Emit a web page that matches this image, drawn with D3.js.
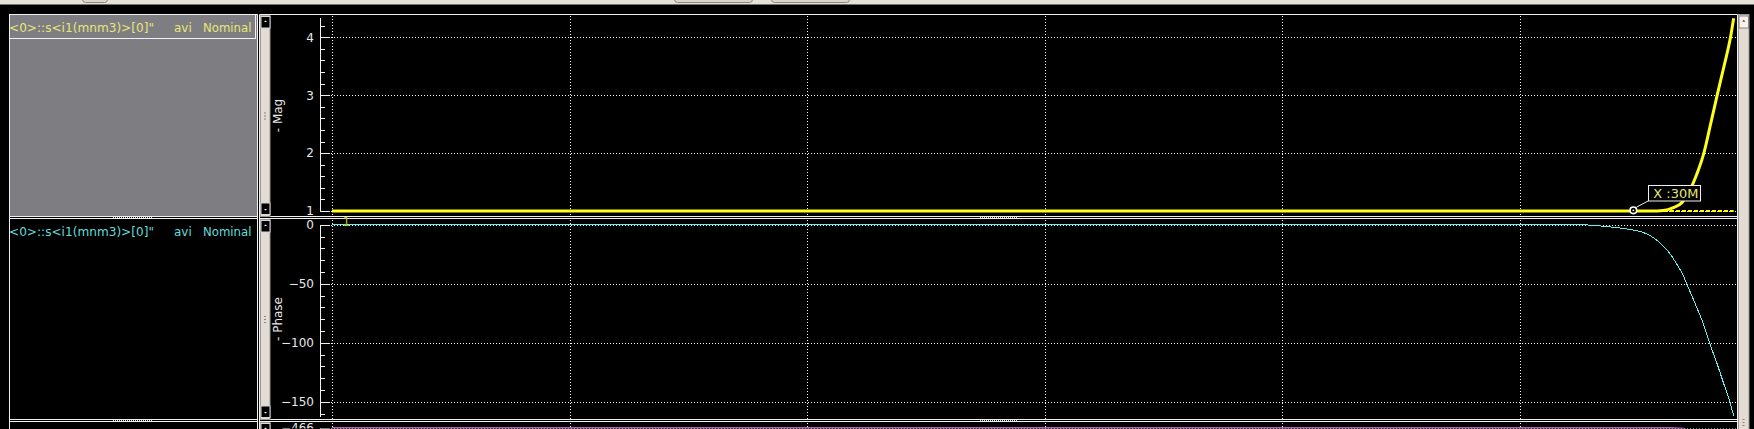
<!DOCTYPE html>
<html><head><meta charset="utf-8">
<script src="https://cdn.jsdelivr.net/npm/d3@7"></script>
<style>
html,body{margin:0;padding:0;background:#000;overflow:hidden}
svg{display:block}
text{font-family:"DejaVu Sans",sans-serif}
</style>
</head><body>
<svg id="c" width="1754" height="429"></svg>
<script>
// ---------------- DATA ----------------
const traceName = '<0>::s<i1(mnm3)>[0]"';
const traceAnalysis = 'avi';
const traceCorner = 'Nominal';
const panelTitles = ['- Mag', '- Phase'];

const magFreq   = [1e2, 1e3, 1e4, 1e5, 1e6, 1e7, 2e7, 3e7, 3.58e7, 4.01e7, 4.42e7, 4.79e7, 5.19e7, 5.54e7, 5.94e7, 6.34e7, 6.76e7, 7.22e7, 7.69e7, 7.93e7];
const magValues = [1, 1, 1, 1, 1, 1, 1, 1, 1, 1.01, 1.06, 1.14, 1.36, 1.63, 2.0, 2.5, 3.0, 3.5, 4.0, 4.33];

const phaseFreq   = [1e2, 1e3, 1e4, 1e5, 1e6, 1e7, 1.88e7, 2.35e7, 2.63e7, 2.90e7, 3.20e7, 3.52e7, 3.88e7, 4.28e7, 4.56e7, 4.86e7, 5.10e7, 5.54e7, 5.91e7, 6.30e7, 6.72e7, 7.17e7, 7.65e7, 7.93e7];
const phaseValues = [0, 0, 0, 0, 0, 0, -0.2, -1.7, -2.8, -4.0, -5.7, -9.1, -15.3, -24.6, -33.1, -43.0, -52.9, -69.9, -84.0, -101.0, -116.6, -133.5, -150.5, -162.0];

const thirdFreq   = [1e2, 1e7, 4.32e7, 4.85e7, 5.3e7];
const thirdValues = [-466, -466, -466, -466.4, -472];

const xGridFreqs  = [1e2, 1e3, 1e4, 1e5, 1e6, 1e7];
const magTicks    = [1, 2, 3, 4];
const phaseTicks  = [0, -50, -100, -150];
const thirdTicks  = [-466];

const markerFreq  = 30e6;
const markerLabel = 'X :30M';
const hMarkerValue = 1;
const hMarkerLabel = '1';

// ---------------- LAYOUT ----------------
const W = 1754, H = 429;
const svg = d3.select('#c');
svg.append('rect').attr('width', W).attr('height', H).attr('fill', '#000');

// top toolbar strip
svg.append('rect').attr('x', 0).attr('y', 0).attr('width', W).attr('height', 4.5).attr('fill', '#e6e1d9');
[[82, 107], [674, 752], [771, 849]].forEach(([a, b]) => {
  svg.append('rect').attr('x', a + 0.5).attr('y', -8).attr('width', b - a).attr('height', 10.5)
    .attr('rx', 3).attr('fill', '#dcd6ce').attr('stroke', '#8e8880');
});

const plotL = 259.5, plotR = 1737.5, axisX = 320;
const x = d3.scaleLog().domain([1e2, 1e7]).range([332, 1520]);

const panels = [
  { top: 14.5, bottom: 216.5, y: d3.scaleLinear().domain([1, 4]).range([211, 37.3]),
    ticks: magTicks, minorStep: 0.2, title: panelTitles[0], data: [magFreq, magValues],
    color: '#ffff1a', width: 3, labelColor: '#e6e678', grey: true },
  { top: 218.5, bottom: 419.5, y: d3.scaleLinear().domain([0, -150]).range([224.7, 401.7]),
    ticks: phaseTicks, minorStep: 10, title: panelTitles[1], data: [phaseFreq, phaseValues],
    color: '#66f0f0', width: 1, labelColor: '#62dcdc', grey: false },
  { top: 421.5, bottom: 470, y: d3.scaleLinear().domain([-466, -516]).range([428, 487]),
    ticks: thirdTicks, minorStep: 10, title: '', data: [thirdFreq, thirdValues],
    color: '#ee82ee', width: 1.5, labelColor: '#ee82ee', grey: false }
];

function vScrollbar(g, xl, y0, y1, dark) {
  g.append('rect').attr('x', xl + 0.5).attr('y', y0 + 0.5).attr('width', 9.5).attr('height', y1 - y0)
    .attr('fill', '#e2dcd4').attr('stroke', '#9c968e');
  const btn = (yy, up) => {
    g.append('rect').attr('x', xl + 1).attr('y', yy).attr('width', 9).attr('height', 11.5)
      .attr('fill', dark ? '#000' : '#f4f1ec').attr('stroke', dark ? '#d8d8d8' : '#8a847c').attr('stroke-width', 1);
    const cx = xl + 5.5, cy = yy + (up ? 4 : 7.5);
    g.append('path').attr('d', up ? `M${cx-1.5},${cy+1.5}L${cx},${cy}L${cx+1.5},${cy+1.5}Z` : `M${cx-1.5},${cy-1.5}L${cx},${cy}L${cx+1.5},${cy-1.5}Z`)
      .attr('fill', dark ? '#fff' : '#000');
  };
  btn(y0 + 1.5, true);
  if (y1 - y0 > 40) btn(y1 - 13, false);
  const mid = (y0 + y1) / 2;
  if (y1 - y0 > 40) [-3, 0, 3].forEach(d => g.append('rect').attr('x', xl + 4).attr('y', mid + d).attr('width', 2).attr('height', 1).attr('fill', '#8a847c'));
}

panels.forEach((p, i) => {
  const g = svg.append('g');
  const bottomClip = Math.min(p.bottom, H);
  // left info panel
  if (p.grey) {
    g.append('rect').attr('x', 9).attr('y', p.top - 0.5).attr('width', 249).attr('height', p.bottom - p.top + 0.5).attr('fill', '#7e7e82');
    g.append('rect').attr('x', 9.5).attr('y', p.top).attr('width', 246).attr('height', 24).attr('fill', 'none').attr('stroke', '#f0f0f0');
  }
  g.append('path').attr('d', `M9.5,${H + 5}V${p.top}H257.5V${H + 5}`).attr('fill', 'none').attr('stroke', '#f0f0f0');
  if (p.bottom < H) g.append('line').attr('x1', 9).attr('x2', 258).attr('y1', p.bottom).attr('y2', p.bottom).attr('stroke', '#f0f0f0');
  if (i < 2) {
    const ty = p.top + 17.5;
    g.append('text').attr('x', 9).attr('y', ty).attr('fill', p.labelColor).attr('font-size', 12)
      .attr('textLength', 145).attr('lengthAdjust', 'spacingAndGlyphs').text(traceName);
    g.append('text').attr('x', 174).attr('y', ty).attr('fill', p.labelColor).attr('font-size', 12).text(traceAnalysis);
    g.append('text').attr('x', 203).attr('y', ty).attr('fill', p.labelColor).attr('font-size', 12)
      .attr('textLength', 48.5).attr('lengthAdjust', 'spacingAndGlyphs').text(traceCorner);
  }
  // plot frame
  g.append('path').attr('d', `M${plotL},${H + 5}V${p.top}H${plotR}V${H + 5}`).attr('fill', 'none').attr('stroke', '#f0f0f0');
  if (p.bottom < H) g.append('line').attr('x1', plotL).attr('x2', plotR).attr('y1', p.bottom).attr('y2', p.bottom).attr('stroke', '#f0f0f0');
  vScrollbar(g, 260, p.top + 0.5, Math.min(p.bottom - 0.5, H + 20), true);

  const clipId = 'clip' + i;
  svg.append('clipPath').attr('id', clipId).append('rect')
    .attr('x', 271).attr('y', p.top + 0.5).attr('width', plotR - 271).attr('height', Math.max(0, bottomClip - p.top - 1));
  const pg = svg.append('g').attr('clip-path', `url(#${clipId})`);
  const y = p.y;

  // grid
  xGridFreqs.forEach(f => {
    const gx = Math.round(x(f)) + 0.5;
    pg.append('line').attr('x1', gx).attr('x2', gx).attr('y1', p.top + 1).attr('y2', bottomClip)
      .attr('stroke', '#fff').attr('stroke-dasharray', '1,2').attr('shape-rendering', 'crispEdges');
  });
  p.ticks.forEach(v => {
    const gy = Math.round(y(v)) + 0.5;
    pg.append('line').attr('x1', 331).attr('x2', plotR).attr('y1', gy).attr('y2', gy)
      .attr('stroke', '#fff').attr('stroke-dasharray', '1,2').attr('shape-rendering', 'crispEdges');
  });

  // axis
  const [fs, vs] = p.data;
  const vmin = d3.min(vs), vmax = d3.max(vs);
  const minor = d3.range(Math.ceil(vmin / p.minorStep), Math.floor(vmax / p.minorStep) + 1).map(k => +(k * p.minorStep).toFixed(4));
  const ax = pg.append('g').attr('transform', `translate(${axisX},0)`);
  ax.call(d3.axisRight(y).tickValues(minor).tickSize(5).tickFormat(''));
  ax.call(g2 => g2.select('.domain').remove());
  const ax2 = pg.append('g').attr('transform', `translate(${axisX},0)`);
  ax2.call(d3.axisRight(y).tickValues(p.ticks).tickSize(10).tickFormat(''));
  ax2.call(g2 => g2.select('.domain').remove());
  pg.selectAll('.tick line').attr('stroke', '#f0f0f0').attr('shape-rendering', 'crispEdges');
  const lastVal = i === 2 ? vmin - 40 : vmin;
  pg.append('line').attr('x1', axisX + 0.5).attr('x2', axisX + 0.5)
    .attr('y1', Math.round(y(vmax))).attr('y2', Math.round(y(lastVal)) + 1)
    .attr('stroke', '#f0f0f0').attr('shape-rendering', 'crispEdges');
  const lab = pg.append('g').attr('transform', `translate(${axisX},0)`);
  lab.call(d3.axisLeft(y).tickValues(p.ticks).tickSize(0).tickPadding(6).tickFormat(d3.format('d')));
  lab.call(g2 => g2.select('.domain').remove());
  lab.selectAll('text').attr('fill', '#e8e8e8').attr('font-size', 12).attr('font-family', '"DejaVu Sans",sans-serif');

  // title
  if (p.title) {
    svg.append('text').attr('transform', `translate(282,${(p.top + p.bottom) / 2}) rotate(-90)`)
      .attr('text-anchor', 'middle').attr('fill', '#e8e8e8').attr('font-size', 12).text(p.title);
  }

  // horizontal marker (magnitude panel)
  if (i === 0) {
    const hy = y(hMarkerValue);
    pg.append('line').attr('x1', x(1e2)).attr('x2', x(7.93e7)).attr('y1', hy).attr('y2', hy)
      .attr('stroke', '#ffff00').attr('stroke-width', 2).attr('stroke-dasharray', '4,2');
  }

  // trace
  const pts = fs.map((f, k) => [x(f), y(vs[k])]);
  pg.append('path').attr('d', d3.line().curve(d3.curveMonotoneX)(pts))
    .attr('fill', 'none').attr('stroke', p.color).attr('stroke-width', p.width)
    .attr('shape-rendering', i === 1 ? 'crispEdges' : 'auto');
});

// separator handles
[[113, 153, 217.5], [980, 1018, 217.5], [113, 153, 420.5], [980, 1018, 420.5]].forEach(([a, b, yy]) => {
  svg.append('line').attr('x1', a).attr('x2', b).attr('y1', yy).attr('y2', yy)
    .attr('stroke', '#d8d8d8').attr('stroke-dasharray', '1,1');
});

// horizontal marker label
{
  const yM = panels[0].y;
  svg.append('text').attr('x', 342.5).attr('y', yM(hMarkerValue) + 14.5).attr('fill', '#c8c010')
    .attr('font-size', 12).text(hMarkerLabel);
}

// vertical point marker on magnitude trace
{
  const yM = panels[0].y;
  const mx = x(markerFreq), my = yM(1) - 0.7;
  svg.append('line').attr('x1', mx + 3).attr('y1', my - 3).attr('x2', mx + 15).attr('y2', my - 9.5)
    .attr('stroke', '#f0f0f0').attr('stroke-width', 1);
  svg.append('circle').attr('cx', mx).attr('cy', my).attr('r', 3.3).attr('fill', '#000')
    .attr('stroke', '#fff').attr('stroke-width', 1.6);
  svg.append('circle').attr('cx', mx).attr('cy', my).attr('r', 0.9).attr('fill', '#fff');
  const bx = mx + 15, by = my - 25;
  svg.append('rect').attr('x', Math.round(bx) + 0.5).attr('y', Math.round(by) + 0.5).attr('width', 52).attr('height', 15.5)
    .attr('fill', '#000').attr('stroke', '#f0f0f0');
  svg.append('text').attr('x', bx + 5).attr('y', by + 13).attr('fill', '#e6e678').attr('font-size', 12.5)
    .attr('textLength', 45).attr('lengthAdjust', 'spacingAndGlyphs').text(markerLabel);
}

// right global scrollbar
{
  const g = svg.append('g');
  g.append('rect').attr('x', 1738.5).attr('y', 14.5).attr('width', 10.5).attr('height', H).attr('fill', '#e2dcd4').attr('stroke', '#9c968e');
  g.append('rect').attr('x', 1739).attr('y', 16).attr('width', 9.5).attr('height', 12).attr('fill', '#f6f3ee').attr('stroke', '#8a847c');
  g.append('path').attr('d', 'M1742.3,21.5L1743.8,20L1745.3,21.5Z').attr('fill', '#000');
  [419, 422, 425].forEach(yy => g.append('rect').attr('x', 1742.5).attr('y', yy).attr('width', 2).attr('height', 1).attr('fill', '#8a847c'));
}
</script>
</body></html>
